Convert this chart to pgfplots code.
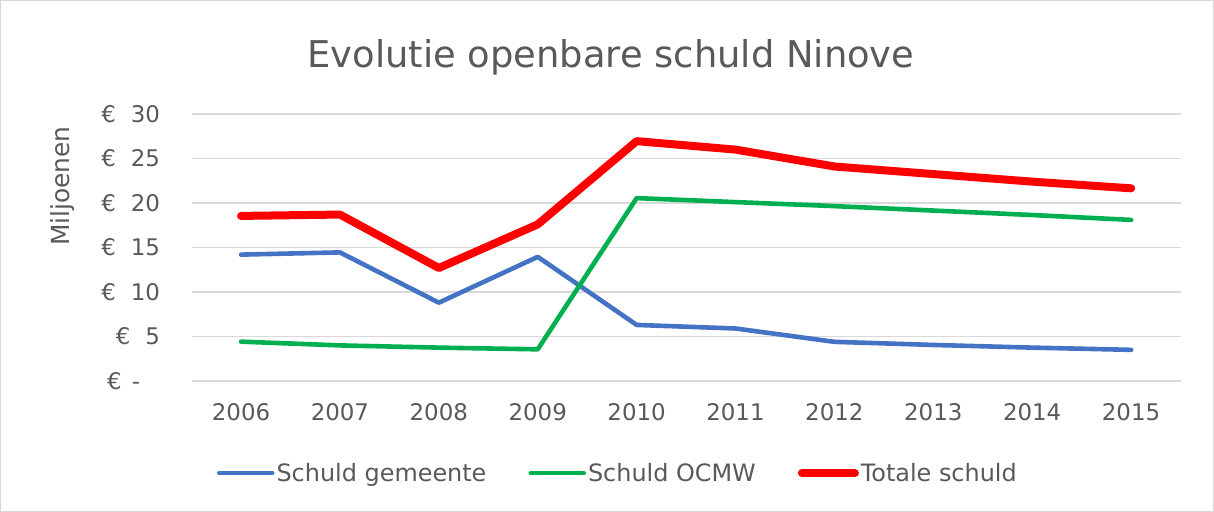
\documentclass[border=0pt]{standalone}
\usepackage{pgfplots}
\pgfplotsset{compat=1.18}
\usepackage{fontspec}
\setmainfont{DejaVu Sans}
\definecolor{txt}{HTML}{595959}
\definecolor{gridc}{HTML}{D9D9D9}
\definecolor{cblue}{HTML}{4472C4}
\definecolor{cgreen}{HTML}{00B050}
\definecolor{cred}{HTML}{FF0000}
\newcommand{\eur}[1]{€\hspace{15bp}#1}
\begin{document}
\begin{tikzpicture}
\path[use as bounding box] (0,0) rectangle (1214bp,512bp);
\draw[gridc, line width=1.2bp] (0.6bp,0.6bp) rectangle (1213.4bp,511.4bp);
\begin{axis}[
  at={(191.6bp,131bp)}, anchor=south west,
  scale only axis, width=989bp, height=267bp,
  xmin=2005.5, xmax=2015.5, ymin=0, ymax=30,
  xtick={2006,2007,...,2015},
  xticklabel style={/pgf/number format/1000 sep=, yshift=-19bp},
  ytick={0,5,...,30},
  yticklabels={€\hspace{10bp}-\rule{20bp}{0pt}, \eur{5}, \eur{10}, \eur{15}, \eur{20}, \eur{25}, \eur{30}},
  yticklabel style={xshift=-28bp},
  axis line style={draw=none},
  major tick length=0pt,
  ymajorgrids, grid style={gridc, line width=1.4bp},
  tick label style={font=\fontsize{23}{27}\selectfont, text=txt},
  /pgf/number format/assume math mode=true,
  title={Evolutie openbare schuld Ninove},
  title style={font=\fontsize{37}{44}\selectfont, text=txt, at={(axis description cs:0.424,1.19)}, anchor=center},
  ylabel={Miljoenen},
  ylabel style={font=\fontsize{25}{29}\selectfont, text=txt, at={(axis description cs:-0.13,0.73)}, anchor=center, rotate=0},
  legend columns=3,
  legend style={draw=none, fill=none, font=\fontsize{24}{28}\selectfont, text=txt,
    at={(axis description cs:0.431,-0.345)}, anchor=center,
    /tikz/every even column/.append style={column sep=40bp}},
  legend image code/.code={\draw[#1, line cap=round] (0bp,0bp) -- (53bp,0bp);},
  every axis plot/.append style={line cap=round, line join=round, mark=none},
  clip=false
]
\addplot[cblue, line width=4.6bp] coordinates {
(2006,14.2) (2007,14.45) (2008,8.8) (2009,13.95) (2010,6.3)
(2011,5.9) (2012,4.4) (2013,4.05) (2014,3.75) (2015,3.5)
};
\addlegendentry{Schuld gemeente}
\addplot[cgreen, line width=4.6bp] coordinates {
(2006,4.42) (2007,4.0) (2008,3.75) (2009,3.56) (2010,20.55)
(2011,20.1) (2012,19.65) (2013,19.15) (2014,18.65) (2015,18.1)
};
\addlegendentry{Schuld OCMW}
\addplot[cred, line width=8bp] coordinates {
(2006,18.55) (2007,18.7) (2008,12.7) (2009,17.6) (2010,26.95)
(2011,26.0) (2012,24.1) (2013,23.25) (2014,22.4) (2015,21.65)
};
\addlegendentry{Totale schuld}
\end{axis}
\end{tikzpicture}
\end{document}
